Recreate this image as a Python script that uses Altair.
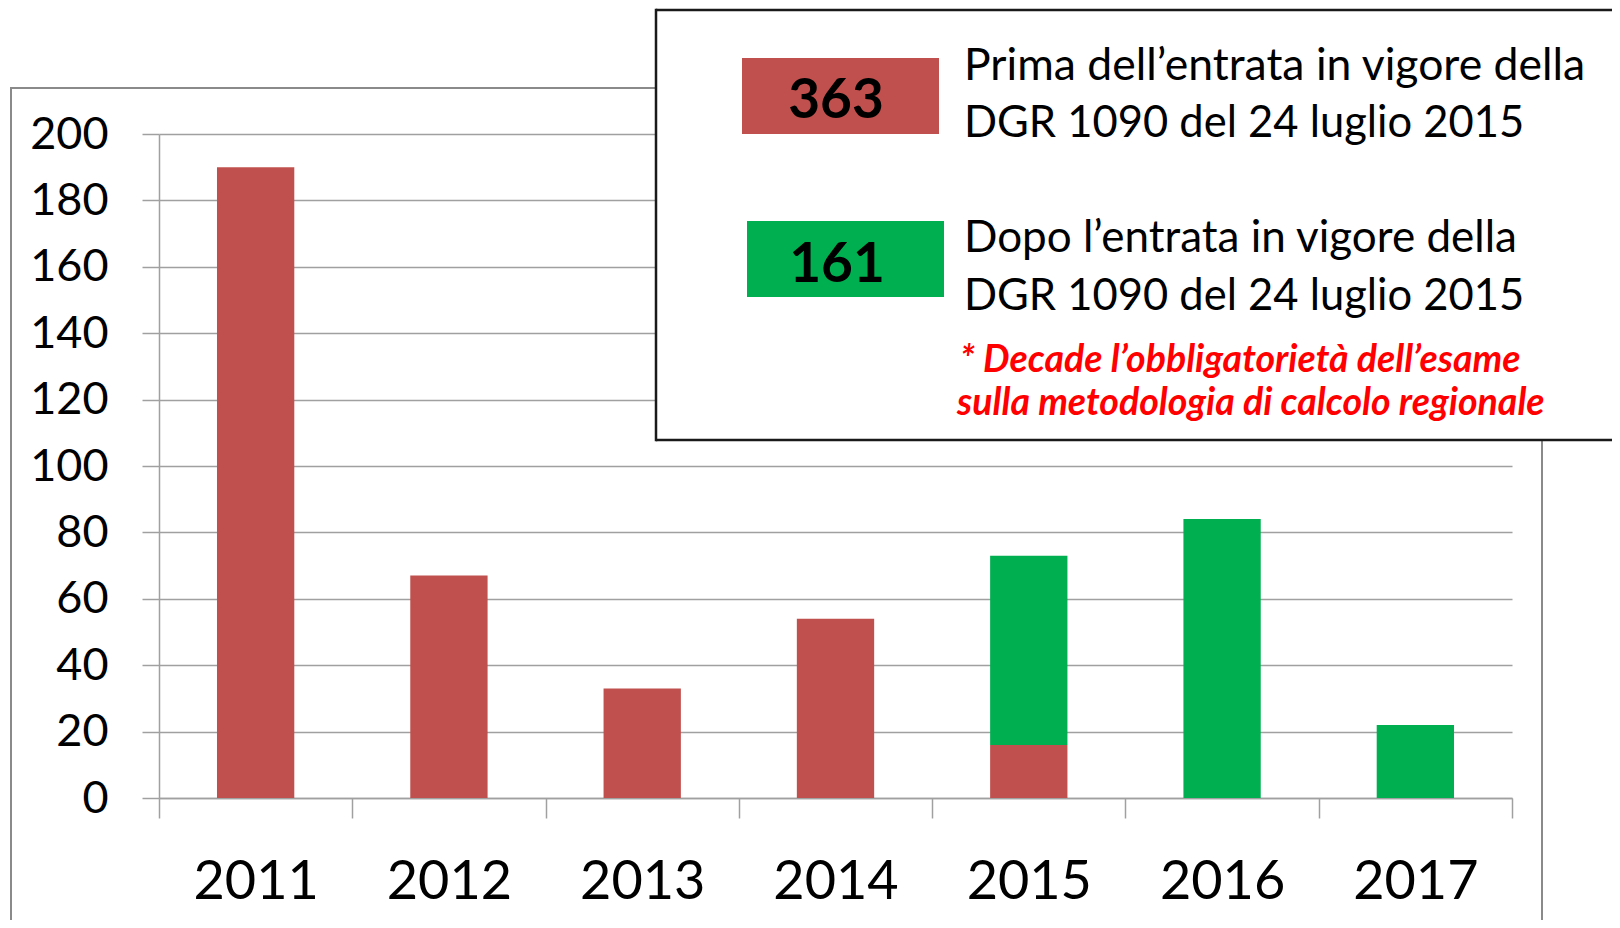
import altair as alt
import pandas as pd

years = ["2011", "2012", "2013", "2014", "2015", "2016", "2017"]
prima = [190, 67, 33, 54, 16, 0, 0]
dopo = [0, 0, 0, 0, 57, 84, 22]
series_names = ["Prima", "Dopo"]
series_colors = ["#C0504D", "#00B050"]
y_ticks = [0, 20, 40, 60, 80, 100, 120, 140, 160, 180, 200]

legend_totals = ["363", "161"]
legend_lines = [
    "Prima dell\u2019entrata in vigore della",
    "DGR 1090 del 24 luglio 2015",
    "Dopo l\u2019entrata in vigore della",
    "DGR 1090 del 24 luglio 2015",
]
note_lines = [
    "* Decade l\u2019obbligatoriet\u00e0 dell\u2019esame",
    "sulla metodologia di calcolo regionale",
]

rows = []
for i, y in enumerate(years):
    if prima[i] > 0:
        rows.append({"year": y, "series": "Prima", "value": prima[i], "ord": 0})
    if dopo[i] > 0:
        rows.append({"year": y, "series": "Dopo", "value": dopo[i], "ord": 1})
df = pd.DataFrame(rows)

FONT = "Lato"

bars = alt.Chart(df).mark_bar(width=alt.RelativeBandSize(0.4)).encode(
    x=alt.X(
        "year:N",
        sort=years,
        scale=alt.Scale(type="band", paddingInner=0, paddingOuter=0),
        axis=alt.Axis(
            title=None,
            labelAngle=0,
            labelFont=FONT,
            labelFontSize=54,
            labelColor="black",
            labelPadding=37,
            tickBand="extent",
            tickSize=20,
            tickColor="#A0A0A0",
            tickWidth=1.5,
            domainColor="#A0A0A0",
            domainWidth=1.5,
            grid=False,
        ),
    ),
    y=alt.Y(
        "value:Q",
        stack="zero",
        scale=alt.Scale(domain=[0, 200], nice=False),
        axis=alt.Axis(
            title=None,
            values=y_ticks,
            labelFont=FONT,
            labelFontSize=45,
            labelColor="black",
            labelPadding=34,
            tickSize=17,
            tickColor="#A0A0A0",
            tickWidth=1.5,
            grid=True,
            gridColor="#A0A0A0",
            gridWidth=1.5,
            domainColor="#A0A0A0",
            domainWidth=1.5,
        ),
    ),
    color=alt.Color(
        "series:N",
        scale=alt.Scale(domain=series_names, range=series_colors),
        legend=None,
    ),
    order=alt.Order("ord:Q"),
)

one = pd.DataFrame({"k": [0]})

frame = alt.Chart(one).mark_rect(
    fill="transparent", stroke="#8A8A8A", strokeWidth=2
).encode(
    x=alt.value(-148), x2=alt.value(1383), y=alt.value(-46), y2=alt.value(900)
)

BOX_L, BOX_R, BOX_T, BOX_B = 497, 1453, -124, 306
box_fill = alt.Chart(one).mark_rect(fill="white").encode(
    x=alt.value(BOX_L), x2=alt.value(1400), y=alt.value(BOX_T), y2=alt.value(BOX_B)
)
box_top = alt.Chart(one).mark_rule(color="#1A1A1A", strokeWidth=2.5).encode(
    x=alt.value(BOX_L), x2=alt.value(BOX_R), y=alt.value(BOX_T)
)
box_bottom = alt.Chart(one).mark_rule(color="#1A1A1A", strokeWidth=2.5).encode(
    x=alt.value(BOX_L), x2=alt.value(BOX_R), y=alt.value(BOX_B)
)
box_left = alt.Chart(one).mark_rule(color="#1A1A1A", strokeWidth=2.5).encode(
    x=alt.value(BOX_L), y=alt.value(BOX_T - 1.25), y2=alt.value(BOX_B + 1.25)
)

sw_red = alt.Chart(one).mark_rect(fill=series_colors[0]).encode(
    x=alt.value(583), x2=alt.value(780), y=alt.value(-76), y2=alt.value(0)
)
sw_green = alt.Chart(one).mark_rect(fill=series_colors[1]).encode(
    x=alt.value(588), x2=alt.value(785), y=alt.value(87), y2=alt.value(163)
)

def txt(s, x, y, size, color="black", weight="normal", style="normal", align="left"):
    return alt.Chart(one).mark_text(
        text=s, font=FONT, fontSize=size, color=color, fontWeight=weight,
        fontStyle=style, align=align, baseline="alphabetic",
    ).encode(x=alt.value(x), y=alt.value(y))

layers = [
    bars, frame, box_fill, box_top, box_bottom, box_left, sw_red, sw_green,
    txt(legend_totals[0], 677, -16, 55, weight="bold", align="center"),
    txt(legend_totals[1], 678, 148, 55, weight="bold", align="center"),
    txt(legend_lines[0], 805, -54, 44.5),
    txt(legend_lines[1], 805, 3, 43.5),
    txt(legend_lines[2], 805, 118, 44),
    txt(legend_lines[3], 805, 176, 43.5),
    txt(note_lines[0], 801, 238, 37.5, color="#FF0000", weight="bold", style="italic"),
    txt(note_lines[1], 798, 281, 37.5, color="#FF0000", weight="bold", style="italic"),
]

chart = alt.layer(*layers).properties(
    width=1353,
    height=664,
    padding={"left": 151, "top": 126, "right": 100, "bottom": 122},
    autosize=alt.AutoSizeParams(type="none"),
    background="white",
).configure_view(stroke=None)

chart.save("out.html", embed_options={"renderer": "svg", "actions": False})
